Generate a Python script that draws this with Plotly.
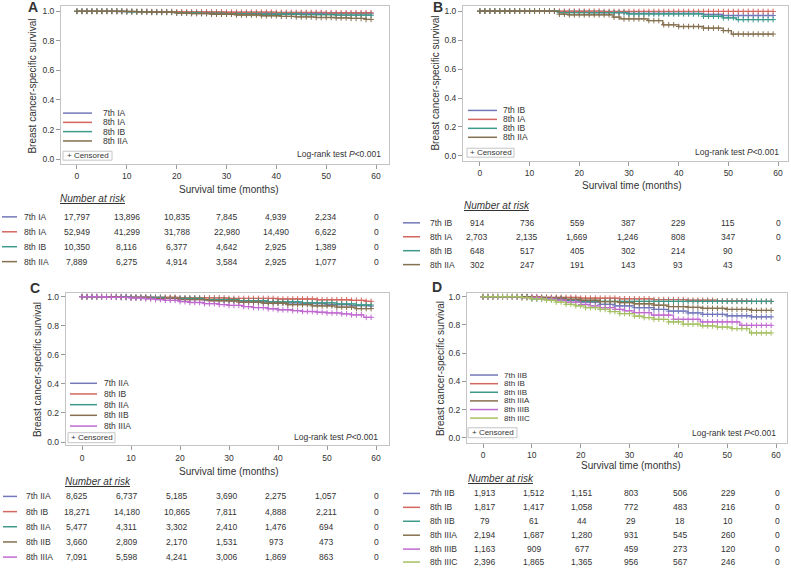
import plotly.graph_objects as go

W, H = 791, 574
FONT = "Liberation Sans, Arial, sans-serif"
TXT = "#333333"

# ---------------- colours ----------------
C_BLUE = "#7378ba"
C_RED = "#d3675f"
C_TEAL = "#3d9a8b"
C_BROWN = "#85704f"
C_PURPLE = "#c06ad0"
C_GREEN = "#a4c063"

# ---------------- shared axis data ----------------
X_TICKS = [0, 10, 20, 30, 40, 50, 60]
Y_TICKS = [0.0, 0.2, 0.4, 0.6, 0.8, 1.0]
CENSOR_MONTHS = [0, 1, 2, 3, 4, 5, 6, 7, 8, 9, 10, 11, 12, 13, 14, 15, 16, 17, 18, 19,
                 20, 21, 22, 23, 24, 25, 26, 27, 28, 29, 30, 31, 32, 33, 34, 35, 36, 37, 38, 39,
                 40, 41, 42, 43, 44, 45, 46, 47, 48, 49, 50, 51, 52, 53, 54, 55, 56, 57, 58, 59]

# ---------------- Panel A ----------------
A_LABELS = ["7th IA", "8th IA", "8th IB", "8th IIA"]
A_7IA_T = [0, 8, 15, 20, 27, 35, 42, 50, 59]
A_7IA_S = [1.0, 0.998, 0.995, 0.992, 0.99, 0.988, 0.986, 0.984, 0.983]
A_8IA_T = [0, 10, 20, 30, 40, 50, 59]
A_8IA_S = [1.0, 0.998, 0.996, 0.994, 0.992, 0.99, 0.99]
A_8IB_T = [0, 10, 15, 20, 25, 30, 37, 45, 52, 59]
A_8IB_S = [1.0, 0.997, 0.993, 0.99, 0.986, 0.983, 0.98, 0.977, 0.974, 0.973]
A_8IIA_T = [0, 12, 15, 20, 23, 27, 32, 37, 41, 44, 48, 52, 55, 58, 59]
A_8IIA_S = [1.0, 0.997, 0.993, 0.988, 0.984, 0.98, 0.975, 0.97, 0.966, 0.962, 0.958, 0.955, 0.952, 0.945, 0.945]
A_RISK_7IA = [17797, 13896, 10835, 7845, 4939, 2234, 0]
A_RISK_8IA = [52949, 41299, 31788, 22980, 14490, 6622, 0]
A_RISK_8IB = [10350, 8116, 6377, 4642, 2925, 1389, 0]
A_RISK_8IIA = [7889, 6275, 4914, 3584, 2925, 1077, 0]

# ---------------- Panel B ----------------
B_LABELS = ["7th IB", "8th IA", "8th IB", "8th IIA"]
B_7IB_T = [0, 16, 22, 30, 45, 49, 59]
B_7IB_S = [1.0, 0.995, 0.99, 0.985, 0.978, 0.97, 0.97]
B_8IA_T = [0, 25, 59]
B_8IA_S = [1.0, 0.998, 0.998]
B_8IB_T = [0, 16, 29.5, 45, 49, 51.6, 59]
B_8IB_S = [1.0, 0.99, 0.981, 0.965, 0.954, 0.942, 0.942]
B_8IIA_T = [0, 16, 17.7, 26.8, 28.2, 33.8, 36.8, 40, 45, 49, 50.6, 59]
B_8IIA_S = [1.0, 0.979, 0.975, 0.959, 0.947, 0.935, 0.906, 0.894, 0.883, 0.866, 0.842, 0.842]
B_RISK_7IB = [914, 736, 559, 387, 229, 115]
B_RISK_8IA = [2703, 2135, 1669, 1246, 808, 347]
B_RISK_8IB = [648, 517, 405, 302, 214, 90]
B_RISK_8IIA = [302, 247, 191, 143, 93, 43]
B_RISK_END = [0, 0, 0]

# ---------------- Panel C ----------------
C_LABELS = ["7th IIA", "8th IB", "8th IIA", "8th IIB", "8th IIIA"]
C_7IIA_T = [0, 8, 15, 20, 25, 30, 35, 40, 45, 50, 55, 59]
C_7IIA_S = [1.0, 0.995, 0.99, 0.985, 0.978, 0.972, 0.965, 0.958, 0.952, 0.945, 0.938, 0.935]
C_8IB_T = [0, 10, 20, 30, 40, 48, 55, 58, 59]
C_8IB_S = [1.0, 0.996, 0.992, 0.988, 0.984, 0.979, 0.975, 0.968, 0.968]
C_8IIA_T = [0, 10, 17, 25, 32, 38, 45, 52, 56, 59]
C_8IIA_S = [1.0, 0.995, 0.988, 0.98, 0.972, 0.965, 0.958, 0.95, 0.943, 0.943]
C_8IIB_T = [0, 8, 14, 20, 26, 32, 37, 42, 47, 52, 56, 59]
C_8IIB_S = [1.0, 0.995, 0.988, 0.98, 0.972, 0.962, 0.955, 0.945, 0.937, 0.928, 0.918, 0.918]
C_8IIIA_T = [0, 5, 10, 13, 15, 17, 20, 22, 25, 28, 30, 33, 35, 38, 40, 43, 45, 48, 50, 53, 55, 57.5, 59]
C_8IIIA_S = [1.0, 0.996, 0.99, 0.985, 0.98, 0.975, 0.966, 0.96, 0.952, 0.946, 0.94, 0.932, 0.925,
             0.917, 0.91, 0.904, 0.898, 0.893, 0.888, 0.882, 0.875, 0.858, 0.858]
C_RISK_7IIA = [8625, 6737, 5185, 3690, 2275, 1057, 0]
C_RISK_8IB = [18271, 14180, 10865, 7811, 4888, 2211, 0]
C_RISK_8IIA = [5477, 4311, 3302, 2410, 1476, 694, 0]
C_RISK_8IIB = [3660, 2809, 2170, 1531, 973, 473, 0]
C_RISK_8IIIA = [7091, 5598, 4241, 3006, 1869, 863, 0]

# ---------------- Panel D ----------------
D_LABELS = ["7th IIB", "8th IB", "8th IIB", "8th IIIA", "8th IIIB", "8th IIIC"]
D_7IIB_T = [0, 10, 14, 17, 20, 24, 27, 31, 35, 38, 42, 45, 50, 55, 59]
D_7IIB_S = [1.0, 0.993, 0.985, 0.975, 0.962, 0.946, 0.935, 0.922, 0.91, 0.898, 0.885, 0.875, 0.865, 0.857, 0.857]
D_8IB_T = [0, 12, 20, 28, 35, 42, 48, 55, 59]
D_8IB_S = [1.0, 0.995, 0.99, 0.985, 0.98, 0.975, 0.97, 0.967, 0.967]
D_8IIB_T = [0, 10, 17, 20, 59]
D_8IIB_S = [1.0, 0.985, 0.975, 0.967, 0.967]
D_8IIIA_T = [0, 10, 14, 17, 20, 24, 28, 31, 35, 38, 42, 45, 50, 55, 59]
D_8IIIA_S = [1.0, 0.995, 0.99, 0.982, 0.975, 0.965, 0.958, 0.95, 0.94, 0.93, 0.925, 0.918, 0.91, 0.903, 0.903]
D_8IIIB_T = [0, 8, 12, 15, 17, 20, 22, 24, 27, 29, 31, 34.5, 39, 44.5, 52.6, 59]
D_8IIIB_S = [1.0, 0.993, 0.985, 0.975, 0.962, 0.945, 0.935, 0.922, 0.91, 0.9, 0.887, 0.87, 0.84, 0.821, 0.797, 0.797]
D_8IIIC_T = [0, 8, 10, 13, 15, 17, 19, 21, 24, 26, 28, 31, 33, 35, 38, 41, 44.5, 48, 51, 54.6, 59]
D_8IIIC_S = [1.0, 0.993, 0.985, 0.975, 0.962, 0.946, 0.935, 0.922, 0.91, 0.895, 0.88, 0.863, 0.852,
             0.84, 0.821, 0.805, 0.793, 0.785, 0.774, 0.743, 0.743]
D_RISK_7IIB = [1913, 1512, 1151, 803, 506, 229, 0]
D_RISK_8IB = [1817, 1417, 1058, 772, 483, 216, 0]
D_RISK_8IIB = [79, 61, 44, 29, 18, 10, 0]
D_RISK_8IIIA = [2194, 1687, 1280, 931, 545, 260, 0]
D_RISK_8IIIB = [1163, 909, 677, 459, 273, 120, 0]
D_RISK_8IIIC = [2396, 1865, 1365, 956, 567, 246, 0]

# ---------------- build panel specs from the arrays ----------------
PANELS = [
    dict(letter="A", labels=A_LABELS,
         colors=[C_BLUE, C_RED, C_TEAL, C_BROWN],
         curves=[(A_7IA_T, A_7IA_S), (A_8IA_T, A_8IA_S), (A_8IB_T, A_8IB_S), (A_8IIA_T, A_8IIA_S)],
         risk=[A_RISK_7IA, A_RISK_8IA, A_RISK_8IB, A_RISK_8IIA],
         geom=dict(frame=(61, 389, 5, 164), xr=[-3.2, 62.6], yr=[-0.034, 1.036],
                   letter=(33, 6), ytitle=(33, 86), xtitle=(228, 189), logrank=(382, 154),
                   cbox=(63, 112, 151, 160), leg_line=(63, 92), leg_text=102,
                   leg_y=[112.7, 122, 131.3, 140.7], leg_size=8.5,
                   head=(59, 199), risk_y=[217, 232, 247, 262], risk_line=(2, 17),
                   risk_label=23, cols=(77, 376))),
    dict(letter="B", labels=B_LABELS,
         colors=[C_BLUE, C_RED, C_TEAL, C_BROWN],
         curves=[(B_7IB_T, B_7IB_S), (B_8IA_T, B_8IA_S), (B_8IB_T, B_8IB_S), (B_8IIA_T, B_8IIA_S)],
         risk=[B_RISK_7IB, B_RISK_8IA, B_RISK_8IB, B_RISK_8IIA],
         geom=dict(frame=(463, 788, 5, 160.7), xr=[-3.4, 62.0], yr=[-0.034, 1.036],
                   letter=(438, 6), ytitle=(436, 82), xtitle=(631, 185), logrank=(780, 152),
                   cbox=(467, 514, 148, 157), leg_line=(468, 497), leg_text=502,
                   leg_y=[110, 119, 128, 137], leg_size=8.5,
                   head=(463, 206), risk_y=[223, 237, 251, 265], risk_line=(403, 420),
                   risk_label=429, cols=(477, 778))),
    dict(letter="C", labels=C_LABELS,
         colors=[C_BLUE, C_RED, C_TEAL, C_BROWN, C_PURPLE],
         curves=[(C_7IIA_T, C_7IIA_S), (C_8IB_T, C_8IB_S), (C_8IIA_T, C_8IIA_S),
                 (C_8IIB_T, C_8IIB_S), (C_8IIIA_T, C_8IIIA_S)],
         risk=[C_RISK_7IIA, C_RISK_8IB, C_RISK_8IIA, C_RISK_8IIB, C_RISK_8IIIA],
         geom=dict(frame=(65.7, 389, 293.3, 446.7), xr=[-3.33, 62.65], yr=[-0.023, 1.027],
                   letter=(35, 289), ytitle=(37, 371), xtitle=(228, 473), logrank=(379, 438),
                   cbox=(68, 115, 434, 444), leg_line=(70, 97), leg_text=103,
                   leg_y=[384.3, 395, 405.8, 416.5, 427.3], leg_size=8.5,
                   head=(64, 483), risk_y=[498, 513.3, 528.5, 543.8, 559], risk_line=(3, 17),
                   risk_label=25, cols=(77, 376))),
    dict(letter="D", labels=D_LABELS,
         colors=[C_BLUE, C_RED, C_TEAL, C_BROWN, C_PURPLE, C_GREEN],
         curves=[(D_7IIB_T, D_7IIB_S), (D_8IB_T, D_8IB_S), (D_8IIB_T, D_8IIB_S),
                 (D_8IIIA_T, D_8IIIA_S), (D_8IIIB_T, D_8IIIB_S), (D_8IIIC_T, D_8IIIC_S)],
         risk=[D_RISK_7IIB, D_RISK_8IB, D_RISK_8IIB, D_RISK_8IIIA, D_RISK_8IIIB, D_RISK_8IIIC],
         geom=dict(frame=(467, 787, 293.3, 444), xr=[-3.28, 62.25], yr=[-0.035, 1.028],
                   letter=(437, 288), ytitle=(440, 370), xtitle=(630, 467), logrank=(777, 434),
                   cbox=(468, 517, 429, 439), leg_line=(470, 498), leg_text=503,
                   leg_y=[376, 384.7, 393.3, 402, 410.7, 419.3], leg_size=8,
                   head=(467, 480), risk_y=[495, 509, 523, 537, 551, 564], risk_line=(403, 420),
                   risk_label=429, cols=(485, 777))),
]


def px(x):
    return x / W


def py(y):
    return 1 - y / H


def surv_at(ts, ss, m):
    v = ss[0]
    for t, s in zip(ts, ss):
        if t <= m:
            v = s
    return v


annotations = []
shapes = []


def text(x, y, s, size=8.5, xanchor="left", yanchor="middle", **kw):
    annotations.append(dict(x=px(x), y=py(y), xref="paper", yref="paper", text=s,
                            showarrow=False, xanchor=xanchor, yanchor=yanchor,
                            font=dict(family=FONT, size=size, color=kw.pop("color", TXT)),
                            borderpad=0, **kw))


def hline(x0, x1, y, color, width=1.5):
    shapes.append(dict(type="line", xref="paper", yref="paper", x0=px(x0), x1=px(x1),
                       y0=py(y), y1=py(y), line=dict(color=color, width=width)))


fig = go.Figure()
layout_axes = {}

for i, p in enumerate(PANELS):
    g = p["geom"]
    n = "" if i == 0 else str(i + 1)
    xa, ya = "x" + n, "y" + n
    fx0, fx1, fy0, fy1 = g["frame"]

    common = dict(showgrid=False, zeroline=False, showline=True, linecolor="#c4c4c4",
                  linewidth=1, mirror=True, ticks="outside", ticklen=4, tickwidth=1,
                  tickcolor="#9a9a9a", tickfont=dict(family=FONT, size=8.5, color=TXT),
                  fixedrange=True)
    layout_axes["xaxis" + n] = dict(common, domain=[px(fx0), px(fx1)], range=g["xr"],
                                    tickvals=X_TICKS, anchor=ya)
    layout_axes["yaxis" + n] = dict(common, domain=[py(fy1), py(fy0)], range=g["yr"],
                                    tickvals=Y_TICKS, tickformat=".1f", anchor=xa)

    for (ts, ss), col, lab in zip(p["curves"], p["colors"], p["labels"]):
        fig.add_trace(go.Scatter(x=ts, y=ss, mode="lines", name=lab,
                                 line=dict(shape="hv", color=col, width=1.3),
                                 xaxis=xa, yaxis=ya, hoverinfo="skip"))
        cm = [m for m in CENSOR_MONTHS if m <= ts[-1]]
        fig.add_trace(go.Scatter(x=cm, y=[surv_at(ts, ss, m) for m in cm], mode="markers",
                                 marker=dict(symbol="cross-thin", size=4,
                                             line=dict(color=col, width=1)),
                                 xaxis=xa, yaxis=ya, hoverinfo="skip", showlegend=False))

    # panel letter and titles
    text(g["letter"][0], g["letter"][1], "<b>%s</b>" % p["letter"], size=14, xanchor="center")
    annotations.append(dict(x=px(g["ytitle"][0]), y=py(g["ytitle"][1]), xref="paper", yref="paper",
                            text="Breast cancer-specific survival", textangle=-90, showarrow=False,
                            xanchor="center", yanchor="middle",
                            font=dict(family=FONT, size=10, color=TXT)))
    text(g["xtitle"][0], g["xtitle"][1], "Survival time (months)", size=10, xanchor="center")
    text(g["logrank"][0], g["logrank"][1], "Log-rank test <i>P</i>&lt;0.001", xanchor="right")

    # censored box
    bx0, bx1, by0, by1 = g["cbox"]
    shapes.append(dict(type="rect", xref="paper", yref="paper", x0=px(bx0), x1=px(bx1),
                       y0=py(by1), y1=py(by0), line=dict(color="#c4c4c4", width=1),
                       fillcolor="white"))
    text((bx0 + bx1) / 2, (by0 + by1) / 2, "+ Censored", size=8, xanchor="center")

    # in-plot legend
    for lab, col, yy in zip(p["labels"], p["colors"], g["leg_y"]):
        hline(g["leg_line"][0], g["leg_line"][1], yy, col, 1.5)
        text(g["leg_text"], yy, lab, size=g["leg_size"])

    # number at risk table
    text(g["head"][0], g["head"][1], "<i><u>Number at risk</u></i>", size=10)
    c0, c1 = g["cols"]
    for r, (lab, col, row) in enumerate(zip(p["labels"], p["colors"], p["risk"])):
        yy = g["risk_y"][r]
        hline(g["risk_line"][0], g["risk_line"][1], yy, col, 1.5)
        text(g["risk_label"], yy, lab)
        for k, v in enumerate(row):
            xx = c0 + (c1 - c0) * k / 6
            text(xx, yy, f"{v:,}", xanchor="center")

# panel B: final risk column (third zero shared between last two rows)
gB = PANELS[1]["geom"]
b_end_y = [gB["risk_y"][0], gB["risk_y"][1], (gB["risk_y"][2] + gB["risk_y"][3]) / 2]
for v, yy in zip(B_RISK_END, b_end_y):
    text(gB["cols"][1], yy, f"{v:,}", xanchor="center")

fig.update_layout(width=W, height=H, margin=dict(l=0, r=0, t=0, b=0),
                  paper_bgcolor="white", plot_bgcolor="white", showlegend=False,
                  hovermode=False,
                  annotations=annotations, shapes=shapes, **layout_axes)

fig.write_html("out.html", config={"displayModeBar": False, "staticPlot": True},
               post_script="document.body.style.margin='0';document.body.style.padding='0';"
                           "document.documentElement.style.overflow='hidden';")
